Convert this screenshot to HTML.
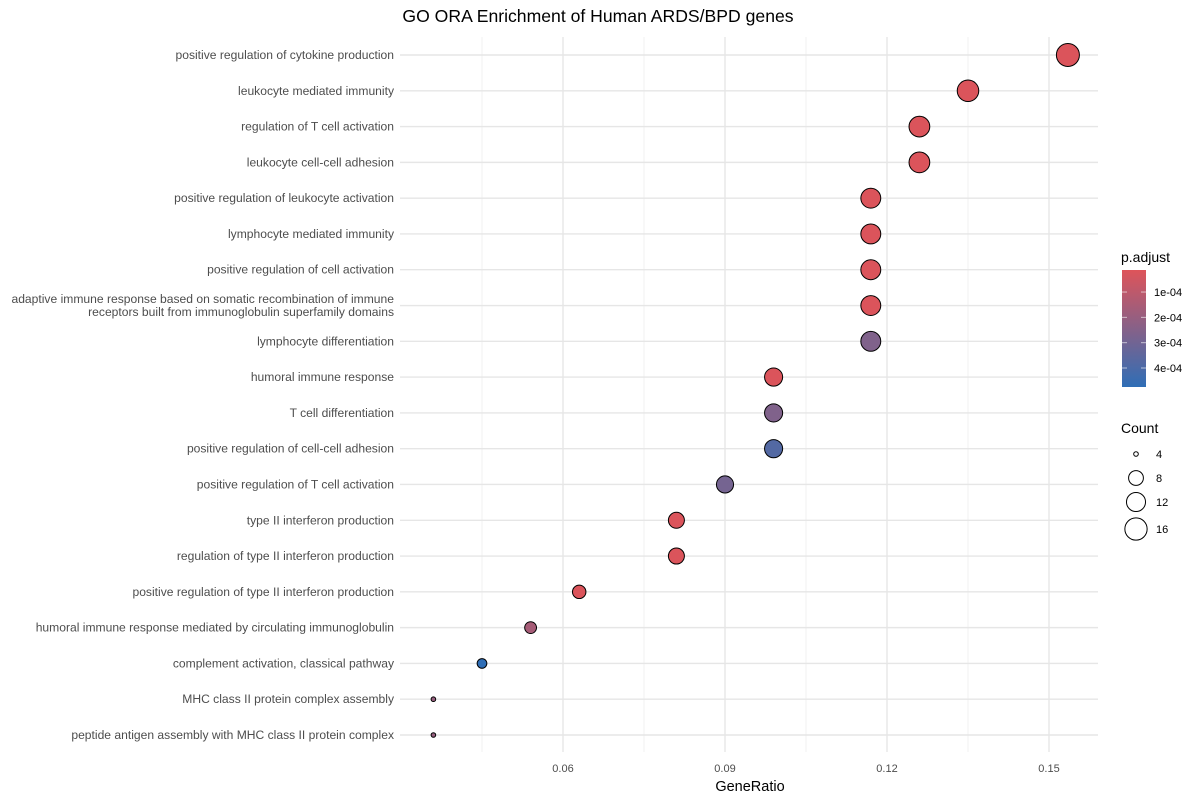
<!DOCTYPE html>
<html><head><meta charset="utf-8"><style>
body{margin:0;background:#fff;}
svg text{font-family:"Liberation Sans",Arial,sans-serif;}
</style></head><body>
<svg id="chart" width="1200" height="800" xmlns="http://www.w3.org/2000/svg">
<rect width="1200" height="800" fill="#fff"/>
<text x="598" y="22" font-size="17.6" text-anchor="middle" fill="#000">GO ORA Enrichment of Human ARDS/BPD genes</text>
<g id="grid"></g><g id="ylabels"></g><g id="xticks"></g><g id="points"></g>
<text x="750" y="791" font-size="14.5" text-anchor="middle" fill="#000">GeneRatio</text>
<g id="legend"></g>
</svg>
<script>
const terms=["positive regulation of cytokine production","leukocyte mediated immunity","regulation of T cell activation","leukocyte cell-cell adhesion","positive regulation of leukocyte activation","lymphocyte mediated immunity","positive regulation of cell activation","adaptive immune response based on somatic recombination of immune|receptors built from immunoglobulin superfamily domains","lymphocyte differentiation","humoral immune response","T cell differentiation","positive regulation of cell-cell adhesion","positive regulation of T cell activation","type II interferon production","regulation of type II interferon production","positive regulation of type II interferon production","humoral immune response mediated by circulating immunoglobulin","complement activation, classical pathway","MHC class II protein complex assembly","peptide antigen assembly with MHC class II protein complex"];
const geneRatio=[0.1535,0.135,0.126,0.126,0.117,0.117,0.117,0.117,0.117,0.099,0.099,0.099,0.090,0.081,0.081,0.063,0.054,0.045,0.036,0.036];
const counts=[17,15,14,14,13,13,13,13,13,11,11,11,10,9,9,7,6,5,4,4];
const padj=[0.2e-4,0.2e-4,0.2e-4,0.2e-4,0.2e-4,0.2e-4,0.2e-4,0.2e-4,2.6e-4,0.2e-4,2.6e-4,3.8e-4,2.9e-4,0.2e-4,0.2e-4,0.2e-4,1.6e-4,4.75e-4,2.0e-4,2.0e-4];
const xTicks=[0.06,0.09,0.12,0.15];
const xMinor=[0.045,0.075,0.105,0.135];
const pTicks=[1e-4,2e-4,3e-4,4e-4];
const countTicks=[4,8,12,16];

const NS="http://www.w3.org/2000/svg";
function mk(t,a,p){const e=document.createElementNS(NS,t);for(const k in a)e.setAttribute(k,a[k]);p.appendChild(e);return e;}
const PL=400,PR=1098,PT=37,PB=752;
const x=v=>239+(v)*5400;
const y=i=>55+i*(735-55)/(terms.length-1);
const pMin=0.13e-4,pMax=4.75e-4;
const cMin=4,cMax=17;
const rad=c=>2.3+9.2*Math.sqrt(Math.max(0,(c-cMin))/(cMax-cMin));
const lo=[222,84,90],hi=[47,110,182];
function col(p){let t=(p-pMin)/(pMax-pMin);t=Math.max(0,Math.min(1,t));return `rgb(${lo.map((v,k)=>Math.round(v+(hi[k]-v)*t)).join(',')})`;}
const grid=document.getElementById('grid');
xMinor.forEach(v=>{const l=mk('line',{x1:x(v),x2:x(v),y1:PT,y2:PB,stroke:'#f0f0f0','stroke-width':1},grid);

});
xTicks.forEach(v=>{const l=mk('line',{x1:x(v),x2:x(v),y1:PT,y2:PB,stroke:'#e6e6e6','stroke-width':1.4},grid);


const t=mk('text',{x:x(v),y:772,'font-size':11,'text-anchor':'middle',fill:'#4d4d4d'},document.getElementById('xticks'));t.textContent=String(v);

});
const yl=document.getElementById('ylabels');
terms.forEach((s,i)=>{const l=mk('line',{x1:PL,x2:PR,y1:y(i),y2:y(i),stroke:'#e6e6e6','stroke-width':1.4},grid);


const parts=s.split('|');
const t=mk('text',{x:394,'font-size':12.1,'text-anchor':'end',fill:'#4d4d4d'},yl);


parts.forEach((p,k)=>{const ts=mk('tspan',{x:394,y:y(i)+4+(k-(parts.length-1)/2)*13},t);ts.textContent=p;});});
const pts=document.getElementById('points');
terms.forEach((s,i)=>{const c=mk('circle',{cx:x(geneRatio[i]),cy:y(i),r:rad(counts[i]),fill:col(padj[i]),stroke:'#000','stroke-width':1},pts);

});
const lg=document.getElementById('legend');
const t1=mk('text',{x:1121,y:262,'font-size':14,fill:'#000'},lg);t1.textContent='p.adjust';


const defs=mk('defs',{},lg);const gr=mk('linearGradient',{id:'pg',x1:0,y1:0,x2:0,y2:1},defs);
mk('stop',{offset:0,'stop-color':col(pMin)},gr);mk('stop',{offset:1,'stop-color':col(pMax)},gr);
const bar=mk('rect',{x:1122,y:270,width:24,height:117,fill:'url(#pg)'},lg);


const py=p=>270+(p-pMin)/(pMax-pMin)*117;
pTicks.forEach(p=>{mk('line',{x1:1122,x2:1127,y1:py(p),y2:py(p),stroke:'#fff','stroke-opacity':0.6},lg);mk('line',{x1:1141,x2:1146,y1:py(p),y2:py(p),stroke:'#fff','stroke-opacity':0.6},lg);
const t=mk('text',{x:1154,y:py(p)+4,'font-size':11,fill:'#000'},lg);t.textContent=p.toExponential(0).replace('e-','e-0');

});
const t2=mk('text',{x:1121,y:433,'font-size':14,fill:'#000'},lg);t2.textContent='Count';


const ly=[454,478,502,529];
countTicks.forEach((c,k)=>{const ci=mk('circle',{cx:1136,cy:ly[k],r:rad(c),fill:'none',stroke:'#000','stroke-width':1},lg);


const t=mk('text',{x:1156,y:ly[k]+4,'font-size':11,fill:'#000'},lg);t.textContent=c;

});
</script>
</body></html>
